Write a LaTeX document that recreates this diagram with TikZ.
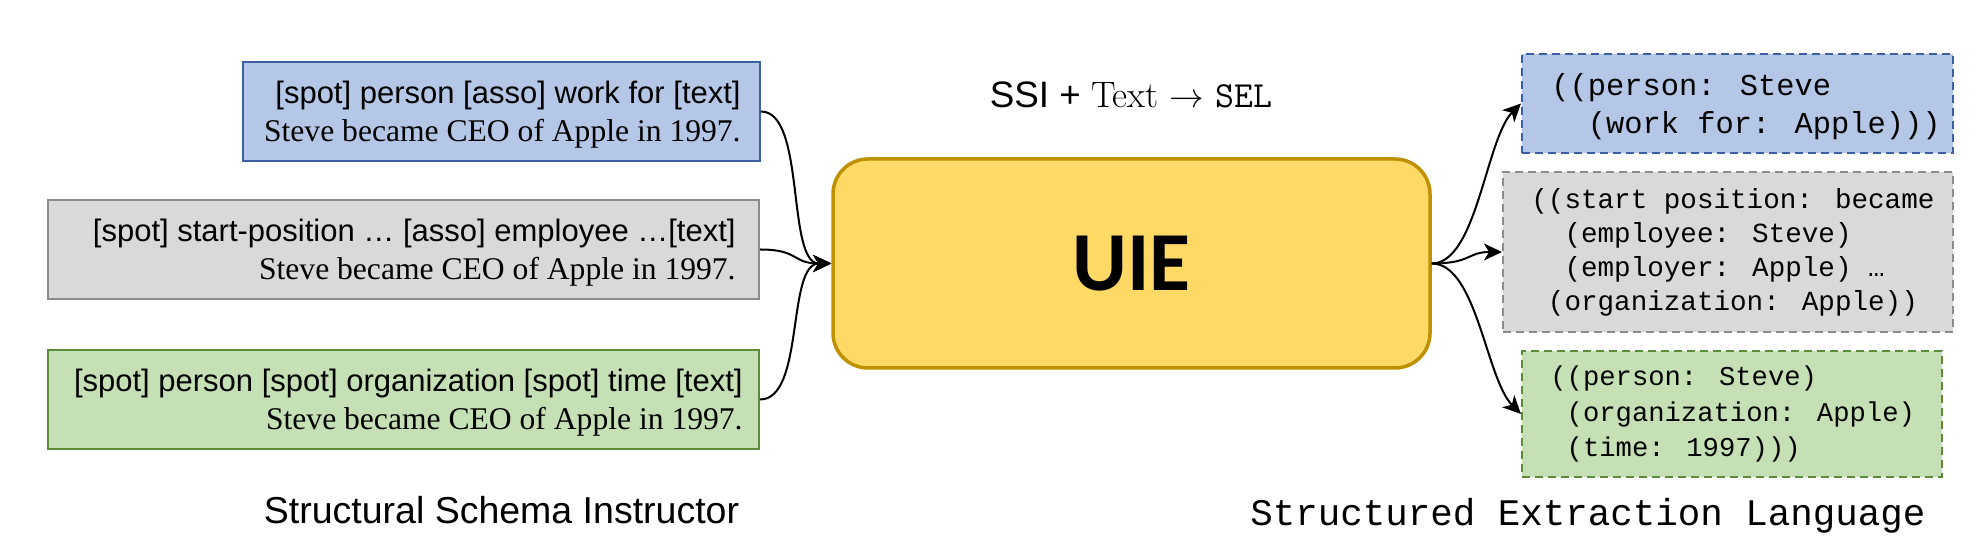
\documentclass[tikz,border=0pt]{standalone}
\usepackage{fontspec}
\usetikzlibrary{arrows.meta}
\newfontfamily\fArial{Liberation Sans}
\newfontfamily\fTimes{Liberation Serif}
\newfontfamily\fMono{Liberation Mono}
\newfontfamily\fCarl{Carlito}
\definecolor{bfill}{HTML}{B4C7E7}
\definecolor{bdraw}{HTML}{3B5FA0}
\definecolor{gfill}{HTML}{D9D9D9}
\definecolor{gdraw}{HTML}{8C8C8C}
\definecolor{nfill}{HTML}{C5E0B4}
\definecolor{ndraw}{HTML}{5B8C3A}
\definecolor{ufill}{HTML}{FFD966}
\definecolor{udraw}{HTML}{BF9000}
\begin{document}
\begin{tikzpicture}[x=0.5pt,y=-0.5pt,
  box/.style={rectangle, draw, line width=1pt, inner sep=0pt},
  inbox/.style={box, minimum height=49.5pt},
  outbox/.style={box, dash pattern=on 4pt off 2.5pt},
  intext/.style={inner sep=0pt, align=right, anchor=east, font=\fontsize{15.5}{18.7}\selectfont},
  outtext/.style={inner sep=0pt, align=left, anchor=west},
  conn/.style={line width=1pt, -{Stealth[length=9pt,width=8.5pt,inset=2.5pt]}}
]
\useasboundingbox (0,0) rectangle (1988,560);

% input boxes
\node[inbox, fill=bfill, draw=bdraw, minimum width=258.5pt] (s1) at (501.5,111.5) {};
\node[inbox, fill=gfill, draw=gdraw, minimum width=355.5pt] (s2) at (403.5,249.5) {};
\node[inbox, fill=nfill, draw=ndraw, minimum width=355.5pt] (s3) at (403.5,399.5) {};

\node[intext] (s1t) at ([xshift=-10pt,yshift=-1.5pt]s1.east)
  {{\fArial [spot] person [asso] work for [text]}\\{\fTimes\fontsize{15.8}{18.7}\selectfont Steve became CEO of Apple in 1997.}};
\node[intext] (s2t) at ([xshift=-12pt,yshift=-1.5pt]s2.east)
  {{\fArial [spot] start-position … [asso] employee …[text]}\\{\fTimes\fontsize{15.8}{18.7}\selectfont Steve became CEO of Apple in 1997.}};
\node[intext] (s3t) at ([xshift=-8.5pt,yshift=-1.5pt]s3.east)
  {{\fArial [spot] person [spot] organization [spot] time [text]}\\{\fTimes\fontsize{15.8}{18.7}\selectfont Steve became CEO of Apple in 1997.}};

% title
\node[font=\fontsize{18.4}{22}\selectfont] (title) at (1131,95) {{\fArial SSI + }Text $\rightarrow$ \texttt{SEL}};

% UIE
\node[draw=udraw, fill=ufill, line width=1.75pt, rounded corners=17.5pt,
  minimum width=298.5pt, minimum height=104.5pt,
  font=\fCarl\bfseries\fontsize{42}{50}\selectfont] (uie) at (1131.5,263.5) {UIE};

% output boxes
\node[outbox, fill=bfill, draw=bdraw, minimum width=215.5pt, minimum height=49.5pt] (o1) at (1737.5,103.5) {};
\node[outbox, fill=gfill, draw=gdraw, minimum width=225pt, minimum height=80pt] (o2) at (1728,252) {};
\node[outbox, fill=nfill, draw=ndraw, minimum width=210pt, minimum height=63pt] (o3) at (1732,414) {};

\node[outtext, font=\fMono\fontsize{15.2}{19}\selectfont] (o1t) at ([xshift=15pt,yshift=-1.5pt]o1.west)
  {((person: Steve\\\hphantom{((}(work for: Apple)))};
\node[outtext, font=\fMono\fontsize{13.8}{17}\selectfont] (o2t) at ([xshift=14.5pt]o2.west)
  {((start position: became\\\hphantom{((}(employee: Steve)\\\hphantom{((}(employer: Apple) …\\\hphantom{(}(organization: Apple))};
\node[outtext, font=\fMono\fontsize{13.6}{17.7}\selectfont] (o3t) at ([xshift=14.5pt]o3.west)
  {((person: Steve)\\\hphantom{(}(organization: Apple)\\\hphantom{(}(time: 1997)))};

% connectors
\draw[conn] (s1.east) .. controls +(45,0) and +(-45,0) .. (uie.west);
\draw[conn] (s2.east) .. controls +(40,0) and +(-40,0) .. (uie.west);
\draw[conn] (s3.east) .. controls +(45,0) and +(-45,0) .. (uie.west);
\draw[conn] (uie.east) .. controls +(45,0) and +(-35,35) .. (o1.west);
\draw[conn] (uie.east) .. controls +(40,0) and +(-35,0) .. (o2.west);
\draw[conn] (uie.east) .. controls +(45,0) and +(-35,-35) .. (o3.west);

% bottom labels
\node[font=\fArial\fontsize{18.75}{22}\selectfont, anchor=base] (lssi) at (501.5,524) {Structural Schema Instructor};
\node[font=\fMono\fontsize{18.75}{22}\selectfont, anchor=base] (lsel) at (1588,526) {Structured Extraction Language};
\end{tikzpicture}
\end{document}
